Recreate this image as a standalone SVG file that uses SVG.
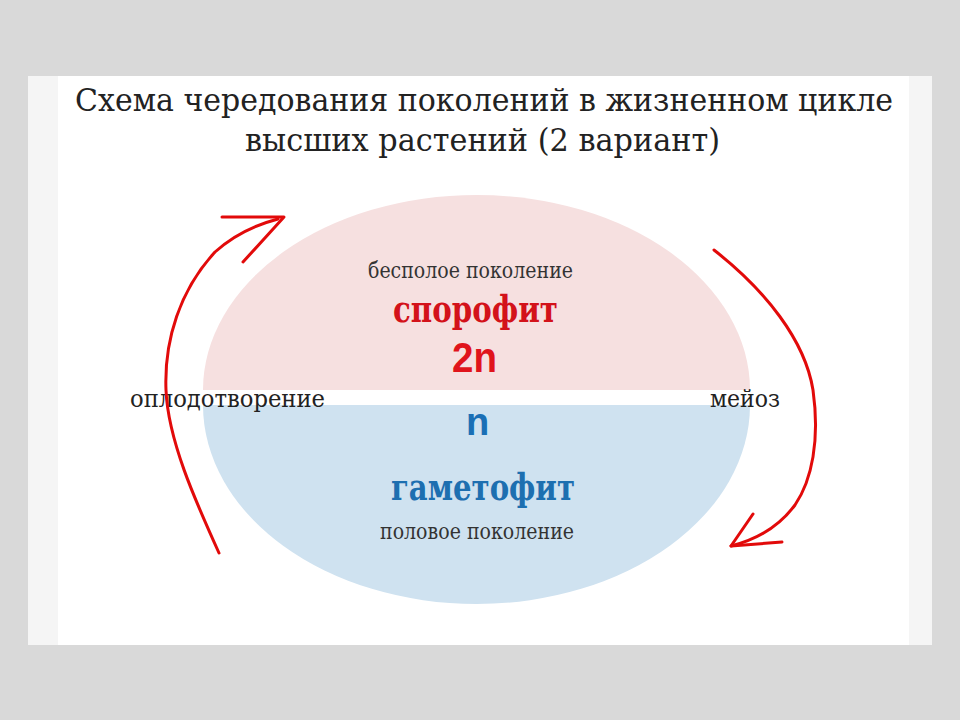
<svg xmlns="http://www.w3.org/2000/svg" width="960" height="720" viewBox="0 0 960 720">
<style>
.serif{font-family:"DejaVu Serif","Liberation Serif",serif}
.sans{font-family:"Liberation Sans",Arial,sans-serif}
.title{font-size:31px;fill:#222}
.small{font-size:23px;fill:#333}
.mid{font-size:24px;fill:#222}
.arrow{fill:none;stroke:#e20a0a;stroke-width:3;stroke-linecap:round;stroke-linejoin:round}
</style>
<rect width="960" height="720" fill="#d9d9d9"/>
<rect x="28" y="76" width="904" height="569" fill="#f5f5f5"/>
<rect x="58" y="76" width="851" height="569" fill="#ffffff"/>
<g id="title">
<text class="serif title" x="484" y="111" text-anchor="middle" textLength="818" lengthAdjust="spacingAndGlyphs">Схема чередования поколений в жизненном цикле</text>
<text class="serif title" x="482.5" y="151" text-anchor="middle" textLength="475" lengthAdjust="spacingAndGlyphs">высших растений (2 вариант)</text>
</g>
<g id="sporophyte">
<path d="M203,390 A273.5,195 0 0 1 750,390 Z" fill="#f6e0e0"/>
<text class="serif small" x="470.5" y="278" text-anchor="middle" textLength="205" lengthAdjust="spacingAndGlyphs">бесполое поколение</text>
<text class="serif" x="475.5" y="322" text-anchor="middle" font-size="37" font-weight="bold" fill="#d3121a" textLength="165" lengthAdjust="spacingAndGlyphs">спорофит</text>
<text class="sans" x="474.5" y="372" text-anchor="middle" font-size="43" font-weight="bold" fill="#e0141c" textLength="45" lengthAdjust="spacingAndGlyphs">2n</text>
</g>
<g id="gametophyte">
<path d="M203,405 A273.5,199 0 0 0 750,405 Z" fill="#cfe2f0"/>
<text class="sans" x="477.5" y="435" text-anchor="middle" font-size="38" font-weight="bold" fill="#1a6fb5">n</text>
<text class="serif" x="483" y="500" text-anchor="middle" font-size="37" font-weight="bold" fill="#1d6fb0" textLength="184" lengthAdjust="spacingAndGlyphs">гаметофит</text>
<text class="serif small" x="477" y="539" text-anchor="middle" textLength="194" lengthAdjust="spacingAndGlyphs">половое поколение</text>
</g>
<g id="labels">
<text class="serif mid" x="130" y="407" textLength="195" lengthAdjust="spacingAndGlyphs">оплодотворение</text>
<text class="serif mid" x="710" y="407" textLength="70" lengthAdjust="spacingAndGlyphs">мейоз</text>
</g>
<g id="connectors">
<path class="arrow" d="M219,553 C195,500 168,440 166,390 C164,340 180,290 215,252 C235,234 255,225 278,219"/>
<path class="arrow" d="M222,217 L284,217 L243,262"/>
<path class="arrow" d="M714,250 C765,290 805,340 813,390 C820,440 812,480 795,505 C778,528 755,540 731,546"/>
<path class="arrow" d="M753,514 L731,546 L782,542"/>
</g>
</svg>
